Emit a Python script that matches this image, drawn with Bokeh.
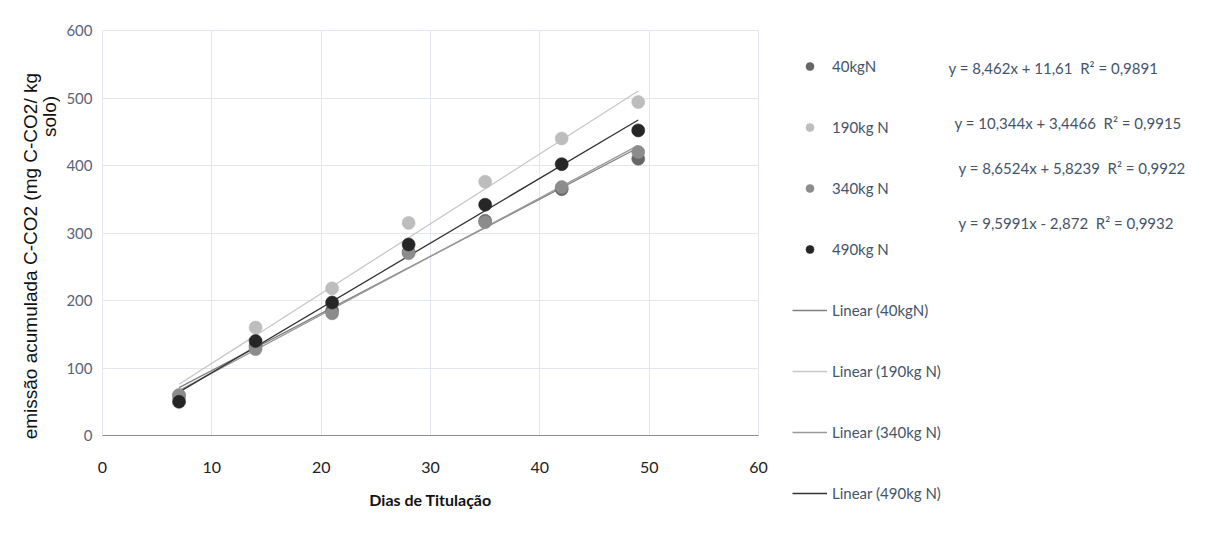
import math
from bokeh.plotting import figure
from bokeh.layouts import row
from bokeh.models import Legend, LegendItem, FixedTicker, Range1d
from bokeh.core.properties import value
from bokeh.embed import file_html
from bokeh.resources import INLINE

days = [7, 14, 21, 28, 35, 42, 49]
series_names = ["40kgN", "190kg N", "340kg N", "490kg N"]
values_40 = [58, 133, 185, 272, 318, 365, 410]
values_190 = [55, 160, 218, 315, 376, 440, 494]
values_340 = [60, 128, 181, 270, 316, 368, 420]
values_490 = [50, 140, 197, 283, 342, 402, 452]
slopes = [8.462, 10.344, 8.6524, 9.5991]
intercepts = [11.61, 3.4466, 5.8239, -2.872]
equations = ["y = 8,462x + 11,61\u00a0 R² = 0,9891",
             "y = 10,344x + 3,4466\u00a0 R² = 0,9915",
             "y = 8,6524x + 5,8239\u00a0 R² = 0,9922",
             "y = 9,5991x - 2,872\u00a0 R² = 0,9932"]
y_title_lines = ["emissão acumulada  C-CO2 (mg C-CO2/ kg", "solo)"]
x_title = "Dias de Titulação"
x_ticks = [0, 10, 20, 30, 40, 50, 60]
y_ticks = [0, 100, 200, 300, 400, 500, 600]

marker_colors = ["#666666", "#bdbdbd", "#8c8c8c", "#262626"]
line_colors = ["#808080", "#c8c8c8", "#9a9a9a", "#333333"]

FONT = "Lato"
TXT = "#44546a"
H = 545
LW = 60  # width of the left title strip

# left strip: rotated y-axis title
p0 = figure(width=LW, height=H, output_backend="svg", toolbar_location=None,
            x_range=Range1d(0, LW), y_range=Range1d(H, 0),
            min_border=0)
p0.frame_align = False
p0.axis.visible = False
p0.grid.visible = False
p0.outline_line_color = None
p0.text(x=[30, 49], y=[253, 116], text=y_title_lines, angle=math.pi / 2,
        text_font=value("Liberation Sans"), text_font_size="19px",
        text_color="#111111", text_align="center", text_baseline="middle")

# main plot
p = figure(width=778 - LW, height=H, output_backend="svg", toolbar_location=None,
           x_range=Range1d(0, 60), y_range=Range1d(0, 600),
           min_border_left=102 - LW, min_border_right=20, min_border_top=30,
           min_border_bottom=110)
p.frame_align = False
p.outline_line_color = "#e3e6ec"
p.xgrid.grid_line_color = "#e3e6ec"
p.ygrid.grid_line_color = "#e3e6ec"
p.xaxis.ticker = FixedTicker(ticks=x_ticks)
p.yaxis.ticker = FixedTicker(ticks=y_ticks)
for ax in (p.xaxis, p.yaxis):
    ax.major_tick_line_color = None
    ax.minor_tick_line_color = None
    ax.major_label_text_font = FONT
p.xaxis.major_label_text_font_size = "16px"
p.yaxis.major_label_text_font_size = "15px"
p.xaxis.axis_line_color = "#8c8c8c"
p.yaxis.axis_line_color = None
p.xaxis.major_label_text_color = "#222222"
p.yaxis.major_label_text_color = "#5a6478"
p.xaxis.major_label_standoff = 20
p.yaxis.major_label_standoff = 4
p.xaxis.axis_label = x_title
p.xaxis.axis_label_text_font = FONT
p.xaxis.axis_label_text_font_style = "bold"
p.xaxis.axis_label_text_font_size = "16px"
p.xaxis.axis_label_text_color = "#111111"
p.xaxis.axis_label_standoff = 14

all_values = [values_40, values_190, values_340, values_490]
for i, vals in enumerate(all_values):
    xs = [days[0], days[-1]]
    ys = [slopes[i] * x + intercepts[i] for x in xs]
    p.line(xs, ys, line_color=line_colors[i], line_width=1.3)
for i, vals in enumerate(all_values):
    p.scatter(days, vals, size=13, fill_color=marker_colors[i],
              line_color=marker_colors[i], line_alpha=0.6)

# right-hand panel: legend + trendline equations
W2 = 1210 - 778
p2 = figure(width=W2, height=H, output_backend="svg", toolbar_location=None,
            x_range=Range1d(778, 1210), y_range=Range1d(H, 42),
            min_border_left=0, min_border_right=0, min_border_top=42,
            min_border_bottom=0)
p2.frame_align = False
p2.axis.visible = False
p2.grid.visible = False
p2.outline_line_color = None

items = []
for i in range(4):
    r = p2.scatter([-9999], [-9999], size=13, fill_color=marker_colors[i],
                   line_color=marker_colors[i], line_alpha=0.6)
    items.append(LegendItem(label=series_names[i], renderers=[r]))
for i in range(4):
    r = p2.line([-9999, -9998], [-9999, -9998], line_color=line_colors[i], line_width=1.3)
    items.append(LegendItem(label="Linear (%s)" % series_names[i], renderers=[r]))
legend = Legend(items=items, location="top_left", orientation="vertical",
                padding=0, margin=14, spacing=41, glyph_width=35, glyph_height=20,
                label_height=20, label_standoff=5,
                label_text_font=FONT, label_text_font_size="15px",
                label_text_color=TXT, border_line_color=None,
                background_fill_alpha=0)
p2.add_layout(legend)

eq_x = [948, 954, 958, 958]
eq_y = [67, 122, 167, 222]
p2.text(x=eq_x, y=eq_y, text=equations, text_font=value(FONT),
        text_font_size="15px", text_color=TXT, text_baseline="middle",
        text_align="left")

layout = row(p0, p, p2)
open("out.html", "w").write(file_html(layout, INLINE))
